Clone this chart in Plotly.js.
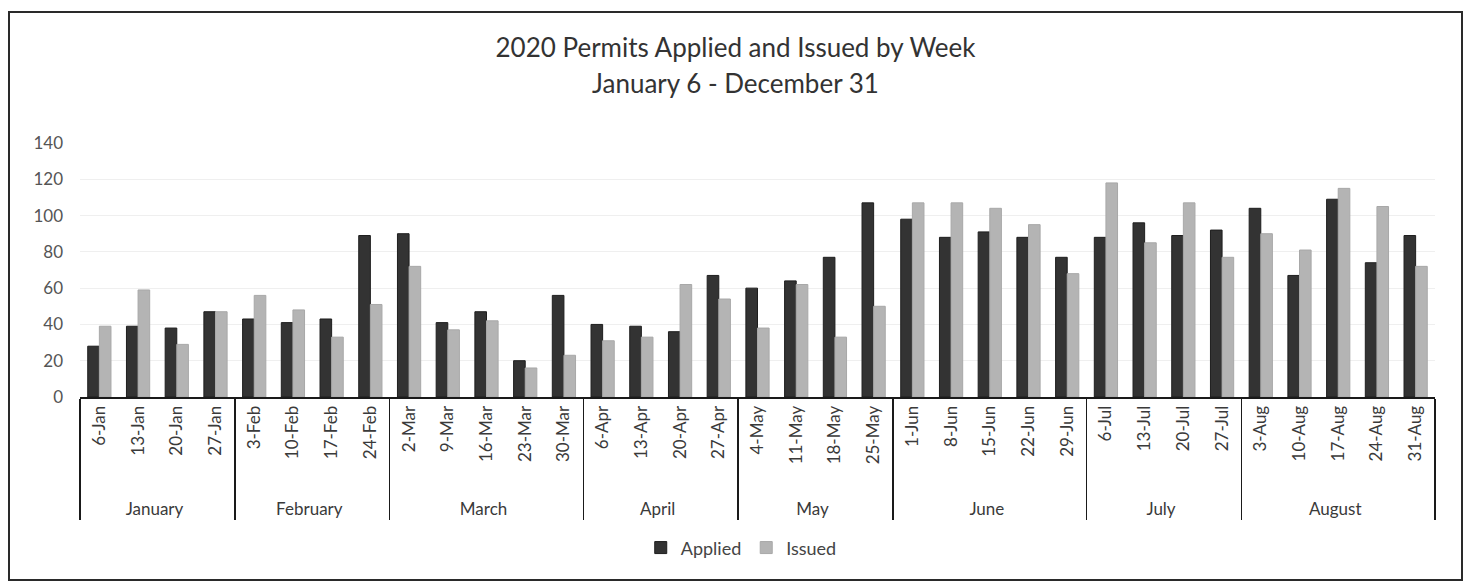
<!DOCTYPE html>
<html>
<head>
<meta charset="utf-8">
<script src="https://cdn.plot.ly/plotly-3.0.1.min.js"></script>
<style>
  html, body { margin: 0; padding: 0; background: #ffffff; }
  #frame { position: absolute; left: 8px; top: 11px; width: 1455px; height: 570px;
           border: 2px solid #2a2a2a; box-sizing: border-box; background: #ffffff; }
  #chart { position: absolute; left: 0; top: 0; }
</style>
</head>
<body>
<div id="frame"><div id="chart"></div></div>
<script>
// ---- data ----
const titleLine1 = "2020 Permits Applied and Issued by Week";
const titleLine2 = "January 6 - December 31";
const months = ["January","January","January","January",
  "February","February","February","February",
  "March","March","March","March","March",
  "April","April","April","April",
  "May","May","May","May",
  "June","June","June","June","June",
  "July","July","July","July",
  "August","August","August","August","August"];
const weeks = ["6-Jan","13-Jan","20-Jan","27-Jan",
  "3-Feb","10-Feb","17-Feb","24-Feb",
  "2-Mar","9-Mar","16-Mar","23-Mar","30-Mar",
  "6-Apr","13-Apr","20-Apr","27-Apr",
  "4-May","11-May","18-May","25-May",
  "1-Jun","8-Jun","15-Jun","22-Jun","29-Jun",
  "6-Jul","13-Jul","20-Jul","27-Jul",
  "3-Aug","10-Aug","17-Aug","24-Aug","31-Aug"];
const applied = [28,39,38,47, 43,41,43,89, 90,41,47,20,56, 40,39,36,67, 60,64,77,107, 98,88,91,88,77, 88,96,89,92, 104,67,109,74,89];
const issued  = [39,59,29,47, 56,48,33,51, 72,37,42,16,23, 31,33,62,54, 38,62,33,50, 107,107,104,95,68, 118,85,107,77, 90,81,115,105,72];
const yTicks = [0,20,40,60,80,100,120,140];

const FONT = "Lato, 'Open Sans', sans-serif";
// leading en-spaces push the month row lower (label spacing only)
const weekLabels = weeks.map(w => "\u2002\u2002" + w);

const traces = [
  { type: "bar", name: "Applied", x: [months, weekLabels], y: applied,
    marker: { color: "#333333", line: { color: "#1e1e1e", width: 1 } } },
  { type: "bar", name: "Issued", x: [months, weekLabels], y: issued,
    marker: { color: "#b4b4b4", line: { color: "#a8a8a8", width: 1 } } }
];

const layout = {
  width: 1451, height: 566,
  margin: { l: 70, r: 26, t: 130, b: 182 },
  paper_bgcolor: "#ffffff", plot_bgcolor: "#ffffff",
  font: { family: FONT, color: "#444444" },
  title: {
    text: titleLine1,
    font: { family: FONT, size: 26, color: "#333333" },
    xref: "container", x: 0.5, xanchor: "center",
    yref: "container", y: 0.938, yanchor: "middle"
  },
  annotations: [{
    text: titleLine2, showarrow: false,
    xref: "paper", x: 0.4841, xanchor: "center",
    yref: "paper", y: 1.236, yanchor: "middle",
    font: { family: FONT, size: 26, color: "#333333" }
  }],
  barmode: "group", bargap: 0.4, bargroupgap: 0,
  showlegend: true,
  legend: { orientation: "h", x: 0.488, xanchor: "center", y: -0.594, yanchor: "middle",
            font: { family: FONT, size: 18, color: "#444444" }, traceorder: "normal" },
  xaxis: {
    type: "multicategory",
    tickangle: -90,
    tickfont: { family: FONT, size: 17, color: "#3a3a3a" },
    showline: true, linecolor: "#1a1a1a", linewidth: 2,
    showdividers: true, dividercolor: "#1a1a1a", dividerwidth: 1.5,
    ticks: "", showgrid: false, zeroline: false
  },
  yaxis: {
    range: [0, 140], tickvals: yTicks, ticktext: yTicks.map(String),
    tickfont: { family: FONT, size: 17, color: "#555555" },
    showgrid: true, gridcolor: "#efefef", gridwidth: 1,
    showline: false, zeroline: false, ticks: "", ticklabelstandoff: 16
  }
};

Plotly.newPlot("chart", traces, layout, { displayModeBar: false, staticPlot: true });
</script>
</body>
</html>
